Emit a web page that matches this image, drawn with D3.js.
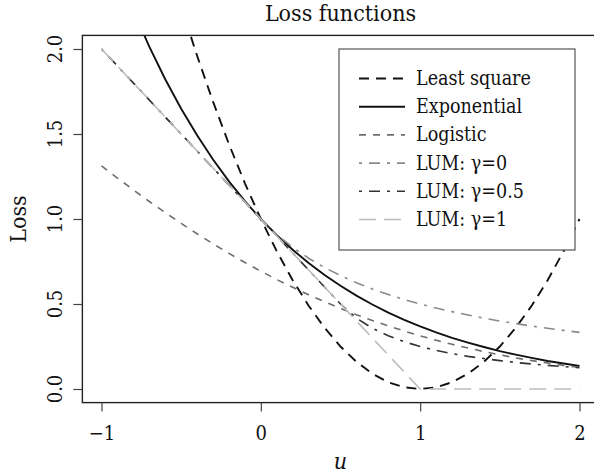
<!DOCTYPE html>
<html>
<head>
<meta charset="utf-8">
<script src="https://cdn.jsdelivr.net/npm/d3@7"></script>
<style>
  body { margin: 0; background: #fff; }
  text { font-family: "DejaVu Serif Condensed", "DejaVu Serif", serif; font-stretch: condensed; fill: #111; }
</style>
</head>
<body>
<script>
// ----------------------------------- DATA --------------------------------------------
var uValues = [-1.0, -0.9, -0.8, -0.7, -0.6, -0.5, -0.4, -0.3, -0.2, -0.1,
               0.0, 0.1, 0.2, 0.3, 0.4, 0.5, 0.6, 0.7, 0.8, 0.9,
               1.0, 1.1, 1.2, 1.3, 1.4, 1.5, 1.6, 1.7, 1.8, 1.9, 2.0]

var leastSquare = [4.00, 3.61, 3.24, 2.89, 2.56, 2.25, 1.96, 1.69, 1.44, 1.21,
                   1.00, 0.81, 0.64, 0.49, 0.36, 0.25, 0.16, 0.09, 0.04, 0.01,
                   0.00, 0.01, 0.04, 0.09, 0.16, 0.25, 0.36, 0.49, 0.64, 0.81, 1.00]

var exponential = [2.718, 2.460, 2.226, 2.014, 1.822, 1.649, 1.492, 1.350, 1.221, 1.105,
                   1.000, 0.905, 0.819, 0.741, 0.670, 0.607, 0.549, 0.497, 0.449, 0.407,
                   0.368, 0.333, 0.301, 0.273, 0.247, 0.223, 0.202, 0.183, 0.165, 0.150, 0.135]

var logistic = [1.313, 1.241, 1.171, 1.103, 1.038, 0.974, 0.913, 0.854, 0.798, 0.744,
                0.693, 0.644, 0.598, 0.554, 0.513, 0.474, 0.437, 0.403, 0.371, 0.341,
                0.313, 0.287, 0.263, 0.241, 0.220, 0.201, 0.183, 0.167, 0.153, 0.139, 0.127]

var lumGamma0 = [2.0, 1.9, 1.8, 1.7, 1.6, 1.5, 1.4, 1.3, 1.2, 1.1,
                 1.000, 0.909, 0.833, 0.769, 0.714, 0.667, 0.625, 0.588, 0.556, 0.526,
                 0.500, 0.476, 0.455, 0.435, 0.417, 0.400, 0.385, 0.370, 0.357, 0.345, 0.333]

var lumGamma05 = [2.0, 1.9, 1.8, 1.7, 1.6, 1.5, 1.4, 1.3, 1.2, 1.1,
                  1.0, 0.9, 0.8, 0.7, 0.6, 0.5, 0.417, 0.357, 0.313, 0.278,
                  0.250, 0.227, 0.208, 0.192, 0.179, 0.167, 0.156, 0.147, 0.139, 0.132, 0.125]

var lumGamma1 = [2.0, 1.9, 1.8, 1.7, 1.6, 1.5, 1.4, 1.3, 1.2, 1.1,
                 1.0, 0.9, 0.8, 0.7, 0.6, 0.5, 0.4, 0.3, 0.2, 0.1,
                 0.0, 0.0, 0.0, 0.0, 0.0, 0.0, 0.0, 0.0, 0.0, 0.0, 0.0]

var seriesNames = ['Least square', 'Exponential', 'Logistic', 'LUM: \u03b3=0', 'LUM: \u03b3=0.5', 'LUM: \u03b3=1']
var seriesValues = [leastSquare, exponential, logistic, lumGamma0, lumGamma05, lumGamma1]

var xTicks = [-1, 0, 1, 2]
var yTicks = [0.0, 0.5, 1.0, 1.5, 2.0]

// line styles per series (colour, width, dash)
var seriesStyles = [
	{color: '#111', width: 1.9, dash: '10,7'},
	{color: '#111', width: 1.9, dash: null},
	{color: '#6e6e6e', width: 1.6, dash: '7,7'},
	{color: '#8a8a8a', width: 1.6, dash: '3,7,11,7'},
	{color: '#333', width: 1.6, dash: '3,7,11,7'},
	{color: '#bdbdbd', width: 1.6, dash: '17,8'}
]
// ----------------------------------------------------------------------------------------------

// ----------------------------------- SVG and SCALES --------------------------------------------
var width = 594
var height = 475

var svg = d3.select('body')
			.append('svg')
			.attr('width', width)
			.attr('height', height)

svg.append('rect')
	.attr('width', '100%')
	.attr('height', '100%')
	.attr('fill', '#fff')

var x = d3.scaleLinear().domain([-1, 2]).range([101.5, 579.5])
var y = d3.scaleLinear().domain([0, 2]).range([389, 49])

// R style 4% padding around the data range
var boxLeft = x(-1.12), boxRight = x(2.12)
var boxTop = y(2.08), boxBottom = y(-0.08)

svg.append('clipPath')
	.attr('id', 'plotclip')
	.append('rect')
	.attr('x', boxLeft)
	.attr('y', boxTop)
	.attr('width', boxRight - boxLeft)
	.attr('height', boxBottom - boxTop)
// ----------------------------------------------------------------------------------------------

// ----------------------------------- CURVES --------------------------------------------
var line = d3.line()
	.x(function(d){ return x(d[0]) })
	.y(function(d){ return y(d[1]) })

var curves = svg.append('g').attr('clip-path', 'url(#plotclip)')

seriesValues.forEach(function(vals, i){
	var pts = uValues.map(function(u, j){ return [u, vals[j]] })
	curves.append('path')
		.datum(pts)
		.attr('d', line)
		.attr('fill', 'none')
		.attr('stroke', seriesStyles[i].color)
		.attr('stroke-width', seriesStyles[i].width)
		.attr('stroke-dasharray', seriesStyles[i].dash)
})
// ----------------------------------------------------------------------------------------------

// ----------------------------------- AXES and BOX --------------------------------------------
svg.append('rect')
	.attr('x', boxLeft)
	.attr('y', boxTop)
	.attr('width', boxRight - boxLeft)
	.attr('height', boxBottom - boxTop)
	.attr('fill', 'none')
	.attr('stroke', '#222')
	.attr('stroke-width', 1.4)

var xAxis = svg.append('g')
	.attr('transform', 'translate(0,' + boxBottom + ')')
	.call(d3.axisBottom(x).tickValues(xTicks).tickSize(9).tickPadding(14)
		.tickFormat(function(d){ return d < 0 ? '\u2212' + Math.abs(d) : d }))

xAxis.select('.domain').remove()
xAxis.selectAll('line').attr('stroke', '#444').attr('stroke-width', 1.2)
xAxis.selectAll('text').attr('font-size', 20).attr('fill', '#111')
	.style('font-family', '"DejaVu Serif Condensed", "DejaVu Serif", serif')

var yAxis = svg.append('g')
	.attr('transform', 'translate(' + boxLeft + ',0)')
	.call(d3.axisLeft(y).tickValues(yTicks).tickSize(9).tickFormat(d3.format('.1f')))

yAxis.select('.domain').remove()
yAxis.selectAll('line').attr('stroke', '#444').attr('stroke-width', 1.2)
yAxis.selectAll('text').remove()

// rotated y tick labels, like R's las = 0
svg.selectAll('.ylab')
	.data(yTicks)
	.enter()
	.append('text')
	.attr('class', 'ylab')
	.attr('transform', function(d){ return 'translate(55,' + y(d) + ') rotate(-90)' })
	.attr('text-anchor', 'middle')
	.attr('dominant-baseline', 'central')
	.attr('font-size', 20)
	.text(d3.format('.1f'))

// titles
svg.append('text')
	.attr('x', (boxLeft + boxRight) / 2)
	.attr('y', 13)
	.attr('text-anchor', 'middle')
	.attr('dominant-baseline', 'central')
	.attr('font-size', 23)
	.text('Loss functions')

svg.append('text')
	.attr('x', (boxLeft + boxRight) / 2)
	.attr('y', 461)
	.attr('text-anchor', 'middle')
	.attr('dominant-baseline', 'central')
	.attr('font-size', 23)
	.attr('font-style', 'italic')
	.text('u')

svg.append('text')
	.attr('transform', 'translate(18,' + ((boxTop + boxBottom) / 2) + ') rotate(-90)')
	.attr('text-anchor', 'middle')
	.attr('dominant-baseline', 'central')
	.attr('font-size', 23)
	.text('Loss')
// ----------------------------------------------------------------------------------------------

// ----------------------------------- LEGEND --------------------------------------------
var legend = svg.append('g')

legend.append('rect')
	.attr('x', 339)
	.attr('y', 49)
	.attr('width', 236)
	.attr('height', 201)
	.attr('fill', '#fff')
	.attr('stroke', '#555')
	.attr('stroke-width', 1.2)

var entries = legend.selectAll('.entry')
	.data(seriesNames)
	.enter()
	.append('g')
	.attr('class', 'entry')
	.attr('transform', function(d, i){ return 'translate(0,' + (78.5 + i * 28.2) + ')' })

entries.append('line')
	.attr('x1', 359)
	.attr('x2', 405)
	.attr('stroke', function(d, i){ return seriesStyles[i].color })
	.attr('stroke-width', function(d, i){ return seriesStyles[i].width })
	.attr('stroke-dasharray', function(d, i){ return seriesStyles[i].dash })

entries.append('text')
	.attr('x', 416)
	.attr('dominant-baseline', 'central')
	.attr('font-size', 19.5)
	.text(function(d){ return d })
// ----------------------------------------------------------------------------------------------
</script>
</body>
</html>
